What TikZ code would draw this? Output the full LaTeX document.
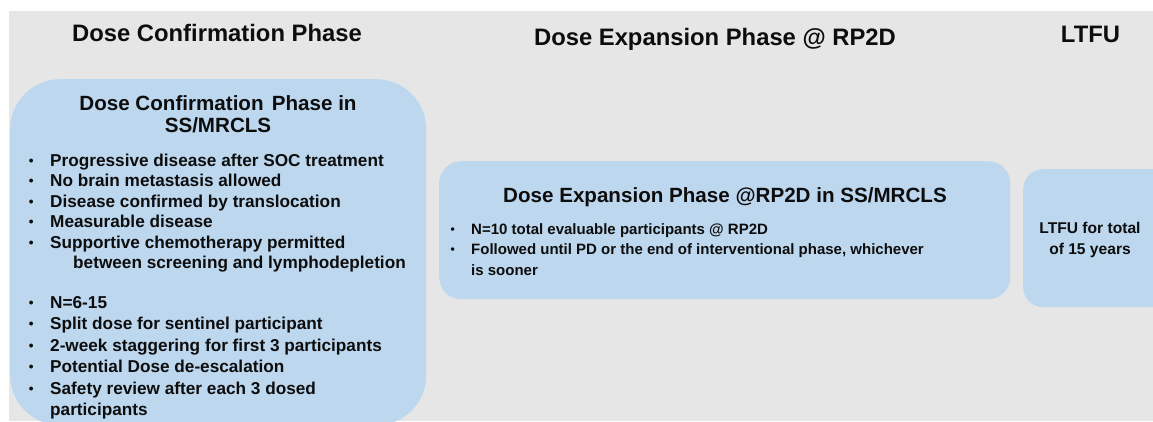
\documentclass[tikz,border=0pt]{standalone}
\usepackage{fontspec}
\setmainfont{Liberation Sans}
\definecolor{bggrey}{HTML}{E6E6E6}
\definecolor{boxblue}{HTML}{BDD7EE}
\definecolor{txt}{HTML}{0D0D0D}
\begin{document}
\begin{tikzpicture}[x=1pt,y=-1pt,
  phasebox/.style={fill=boxblue, draw=none, anchor=north west, inner sep=0pt},
  header/.style={anchor=base, inner sep=0pt, text=txt, font=\fontsize{23.8}{28}\selectfont\bfseries},
  boxtitle/.style={anchor=base, inner sep=0pt, text=txt, font=\fontsize{20.6}{24}\selectfont\bfseries},
  lbul/.style={anchor=base west, inner sep=0pt, text=txt, font=\fontsize{17.2}{20}\selectfont\bfseries},
  lbdot/.style={anchor=base, inner sep=0pt, yshift=0.8pt, text=txt, font=\fontsize{13.5}{16}\selectfont\bfseries},
  mbul/.style={anchor=base west, inner sep=0pt, text=txt, font=\fontsize{15}{18}\selectfont\bfseries},
  mbdot/.style={anchor=base, inner sep=0pt, yshift=0.7pt, text=txt, font=\fontsize{12}{14}\selectfont\bfseries},
  ltxt/.style={anchor=base, inner sep=0pt, text=txt, font=\fontsize{15.6}{18}\selectfont\bfseries}]
\useasboundingbox (0,0) rectangle (1153,421);
\fill[white] (0,0) rectangle (1153,421);
\fill[bggrey] (9,11) rectangle (1153,421);
\begin{scope}
\clip (0,0) rectangle (1153,421);
\node[phasebox, minimum width=416pt, minimum height=346pt, rounded corners=50pt] (confbox) at (10,79) {};
\node[phasebox, minimum width=571pt, minimum height=138pt, rounded corners=22pt] (expbox) at (439,161) {};
\node[phasebox, minimum width=150pt, minimum height=138pt, rounded corners=20pt] (ltfubox) at (1023,169) {};
\end{scope}
% headers
\node[header] (h1) at (217,41.7) {Dose Confirmation Phase};
\node[header] (h2) at (715,45) {Dose Expansion Phase @ RP2D};
\node[header] (h3) at (1090.5,42) {LTFU};
% left box
\node[boxtitle] (ct1) at (218,110) {Dose Confirmation\hspace{0.12em} Phase in};
\node[boxtitle] (ct2) at (218,132) {SS/MRCLS};
\node[lbdot] (cb1) at (31.3,166) {•};
\node[lbul] (c1) at (50,166) {Progressive disease after SOC treatment};
\node[lbdot] (cb2) at (31.3,186.5) {•};
\node[lbul] (c2) at (50,186.5) {No brain metastasis allowed};
\node[lbdot] (cb3) at (31.3,207) {•};
\node[lbul] (c3) at (50,207) {Disease confirmed by translocation};
\node[lbdot] (cb4) at (31.3,227.5) {•};
\node[lbul] (c4) at (50,227.5) {Measurable disease};
\node[lbdot] (cb5) at (31.3,248) {•};
\node[lbul] (c5) at (50,248) {Supportive chemotherapy permitted};
\node[lbul] (c6) at (73,268.5) {between screening and lymphodepletion};
\node[lbdot] (cb7) at (31.3,308) {•};
\node[lbul] (c7) at (50,308) {N=6-15};
\node[lbdot] (cb8) at (31.3,329.5) {•};
\node[lbul] (c8) at (50,329.5) {Split dose for sentinel participant};
\node[lbdot] (cb9) at (31.3,351) {•};
\node[lbul] (c9) at (50,351) {2-week staggering for first 3 participants};
\node[lbdot] (cb10) at (31.3,372.5) {•};
\node[lbul] (c10) at (50,372.5) {Potential Dose de-escalation};
\node[lbdot] (cb11) at (31.3,394) {•};
\node[lbul] (c11) at (50,394) {Safety review after each 3 dosed};
\node[lbul] (c12) at (50,415) {participants};
% middle box
\node[boxtitle] (et) at (725,202) {Dose Expansion Phase @RP2D in SS/MRCLS};
\node[mbdot] (eb1) at (452.7,234) {•};
\node[mbul] (e1) at (471,234) {N=10 total evaluable participants @ RP2D};
\node[mbdot] (eb2) at (452.7,254.5) {•};
\node[mbul] (e2) at (471,254.5) {Followed until PD or the end of interventional phase, whichever};
\node[mbul] (e3) at (471,275) {is sooner};
% LTFU box
\node[ltxt] (l1) at (1090,233) {LTFU for total};
\node[ltxt] (l2) at (1090,254) {of 15 years};
\end{tikzpicture}
\end{document}
